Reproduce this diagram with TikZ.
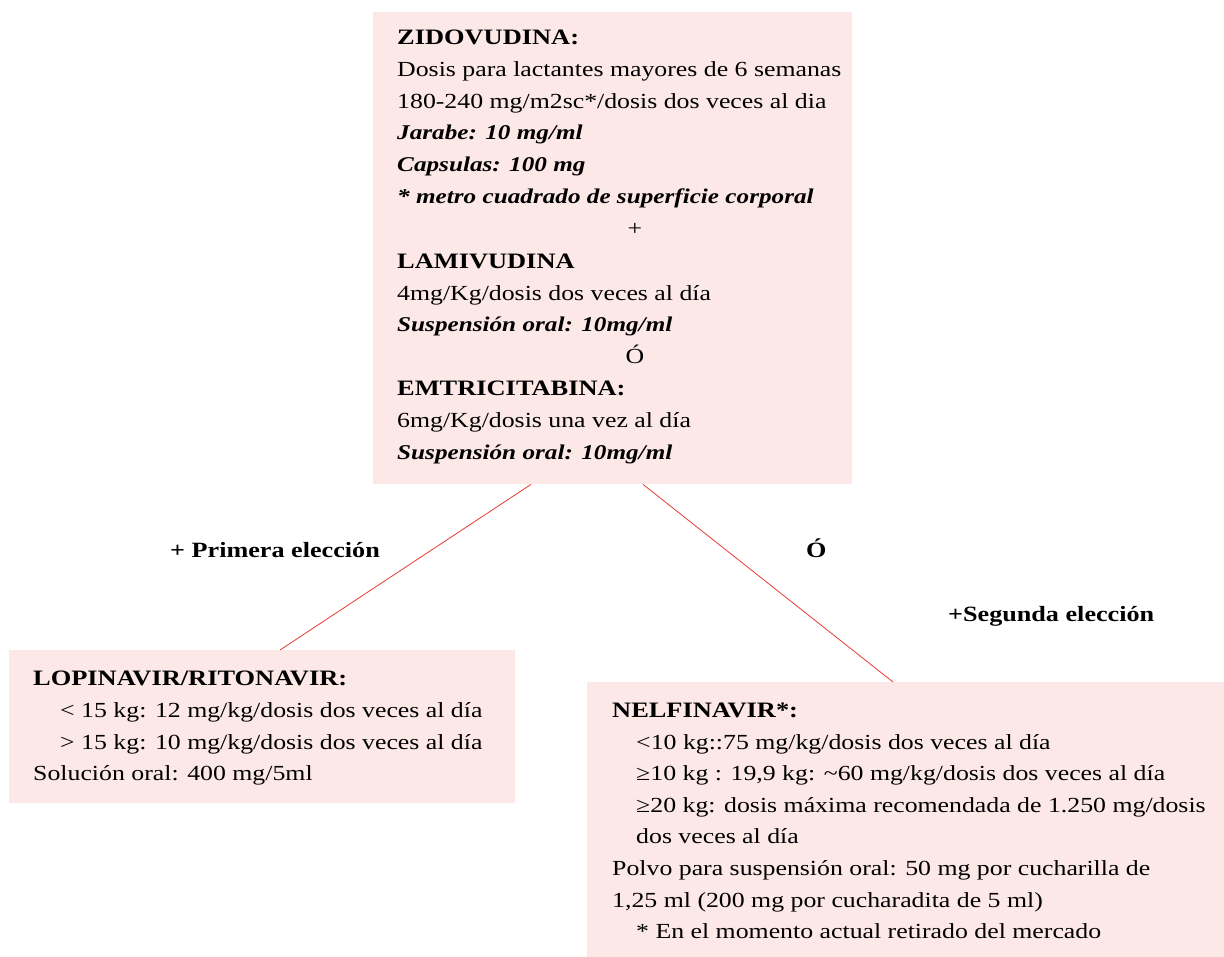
\documentclass[tikz,border=0pt]{standalone}
\usepackage{fontspec}
\setmainfont[FakeStretch=1.2]{Liberation Serif}
\definecolor{boxpink}{RGB}{253,232,232}
\definecolor{linkred}{RGB}{232,58,48}
\tikzset{
  panel/.style={fill=boxpink, draw=none, anchor=north west, inner sep=0pt},
  txt/.style={anchor=base west, inner sep=0pt, font=\fontsize{21.5}{25}\selectfont},
  head/.style={txt, font=\fontsize{22}{26}\selectfont\bfseries},
  bi/.style={txt, font=\fontsize{21}{25}\selectfont\bfseries\itshape},
  mid/.style={anchor=base, inner sep=0pt, font=\fontsize{21.5}{25}\selectfont},
  lbl/.style={anchor=base west, inner sep=0pt, font=\fontsize{21.8}{25}\selectfont\bfseries},
  link/.style={draw=linkred, line width=0.8pt}
}
\begin{document}
\begin{tikzpicture}[x=1pt,y=-1pt]
\useasboundingbox (0,0) rectangle (1224,957);

% panels
\node[panel, minimum width=479pt, minimum height=472pt] (zid) at (373,12) {};
\node[panel, minimum width=506pt, minimum height=153pt] (lop) at (9,650) {};
\node[panel, minimum width=637pt, minimum height=275pt] (nel) at (587,682) {};

% connectors
\draw[link] ([xshift=158pt]zid.south west) -- ([xshift=271pt]lop.north west);
\draw[link] ([xshift=270pt]zid.south west) -- ([xshift=306pt]nel.north west);

% top panel text
\node[head] (z1) at (397,45) {ZIDOVUDINA:};
\node[txt] (z2) at (397,77) {Dosis para lactantes mayores de 6 semanas};
\node[txt] (z3) at (397,109) {180-240 mg/m2sc*/dosis dos veces al dia};
\node[bi] (z4) at (397,140) {Jarabe: 10 mg/ml};
\node[bi] (z5) at (397,172) {Capsulas: 100 mg};
\node[bi] (z6) at (397,204) {* metro cuadrado de superficie corporal};
\node[mid] (z7) at (635,236) {+};
\node[head] (z8) at (397,269) {LAMIVUDINA};
\node[txt] (z9) at (397,301) {4mg/Kg/dosis dos veces al día};
\node[bi] (z10) at (397,332) {Suspensión oral: 10mg/ml};
\node[mid] (z11) at (635,364) {Ó};
\node[head] (z12) at (397,396) {EMTRICITABINA:};
\node[txt] (z13) at (397,428) {6mg/Kg/dosis una vez al día};
\node[bi] (z14) at (397,460) {Suspensión oral: 10mg/ml};

% left panel text
\node[head] (l1) at (33,685) {LOPINAVIR/RITONAVIR:};
\node[txt] (l2) at (60,717) {< 15 kg: 12 mg/kg/dosis dos veces al día};
\node[txt] (l3) at (60,749) {> 15 kg: 10 mg/kg/dosis dos veces al día};
\node[txt] (l4) at (33,780) {Solución oral: 400 mg/5ml};

% right panel text
\node[head] (n1) at (612,717) {NELFINAVIR*:};
\node[txt] (n2) at (636,749) {<10 kg::75 mg/kg/dosis dos veces al día};
\node[txt] (n3) at (636,780) {≥10 kg : 19,9 kg: \textasciitilde60 mg/kg/dosis dos veces al día};
\node[txt] (n4) at (636,812) {≥20 kg: dosis máxima recomendada de 1.250 mg/dosis};
\node[txt] (n5) at (636,843) {dos veces al día};
\node[txt] (n6) at (612,875) {Polvo para suspensión oral: 50 mg por cucharilla de};
\node[txt] (n7) at (612,907) {1,25 ml (200 mg por cucharadita de 5 ml)};
\node[txt] (n8) at (636,938) {* En el momento actual retirado del mercado};

% branch labels
\node[lbl] (p1) at (170,557) {+ Primera elección};
\node[lbl] (p2) at (806,557) {Ó};
\node[lbl] (p3) at (948,621) {+Segunda elección};
\end{tikzpicture}
\end{document}
